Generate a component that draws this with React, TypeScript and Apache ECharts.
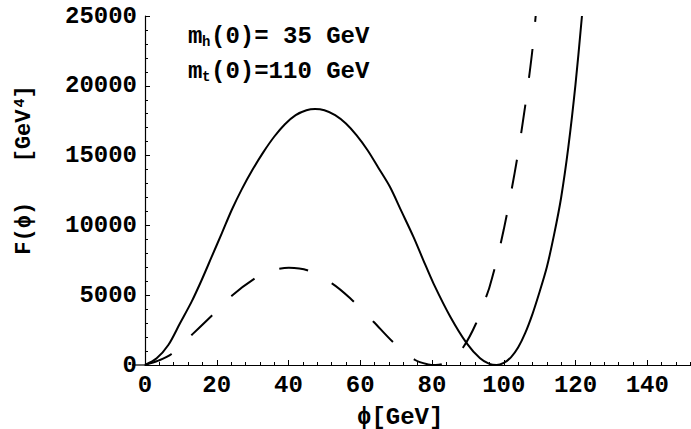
import React, { useEffect, useRef } from "react";
import * as echarts from "echarts";

// phi [GeV], F(phi) [GeV^4]
const solidCurve: [number, number][] = [
  [0, 0], [3.25, 480], [6.5, 1430], [9.76, 2990], [13, 4540], [15.8, 6090],
  [18.6, 7760], [21.4, 9430], [24.2, 11120], [27, 12600], [30, 14000],
  [33, 15250], [36, 16350], [39, 17250], [42, 17900], [45, 18250],
  [47.4, 18340], [50, 18250], [53, 17900], [56, 17300], [59, 16450],
  [62, 15400], [65, 14150], [68.3, 12750], [71.5, 11000], [74.8, 9190],
  [77.6, 7500], [80.4, 5850], [85.1, 3460], [89.7, 1550], [93.4, 480],
  [96, 80], [98, 0], [100, 150], [102, 550], [104, 1250], [106, 2300],
  [108, 3650], [110, 5250], [112, 7000], [114, 9300], [116, 12000],
  [118, 15600], [120, 20100], [121.8, 25000],
];

const dashedCurve: [number, number][] = [
  [0, 0], [3.7, 310], [7.4, 790], [13, 2150], [18.6, 3530], [24.2, 4960],
  [30.7, 6210], [35, 6750], [40.1, 6970], [45.6, 6760], [52.1, 5850],
  [57.2, 4780], [63.7, 3100], [69.3, 1600], [75.3, 360], [79, 40], [81, 0],
  [83, 80], [85.5, 400], [88.8, 1310], [92.3, 2990], [95.1, 4890],
  [96, 5550], [98, 7450], [100, 9700], [102, 12300], [104, 15200],
  [106, 18600], [107, 20500], [108, 22600], [108.9, 25000],
];

const xTicks = [0, 20, 40, 60, 80, 100, 120, 140];
const yTicks = [0, 5000, 10000, 15000, 20000, 25000];

const labelLine1 = { base: "m", sub: "h", rest: "(0)= 35 GeV" };
const labelLine2 = { base: "m", sub: "t", rest: "(0)=110 GeV" };
const xTitle = "ϕ[GeV]";
const yTitleMain = "F(ϕ)   [GeV";
const yTitleSup = "4";

const FONT = "'Liberation Mono', 'DejaVu Sans Mono', 'Courier New', monospace";

export default function App() {
  const ref = useRef<HTMLDivElement>(null);
  useEffect(() => {
    if (!ref.current) return;
    const chart = echarts.init(ref.current, undefined, { renderer: "svg" });
    const axisLabel = {
      fontFamily: FONT,
      fontWeight: "bold" as const,
      fontSize: 24,
      color: "#000",
    };
    const textStyle = (size: number) => ({
      font: `bold ${size}px ${FONT}`,
      fill: "#000",
    });
    chart.setOption({
      animation: false,
      backgroundColor: "#fff",
      grid: {
        left: 145,
        top: 16,
        width: 574,
        height: 349,
        containLabel: false,
        outerBoundsMode: "none",
      },
      xAxis: {
        type: "value",
        min: 0,
        max: 160,
        interval: 20,
        axisLine: { show: true, onZero: false, lineStyle: { color: "#000", width: 1.2 } },
        axisTick: { show: true, inside: true, length: 5, lineStyle: { color: "#000", width: 1 } },
        minorTick: { show: true, splitNumber: 5, length: 3, lineStyle: { color: "#000", width: 1 } },
        splitLine: { show: false },
        minorSplitLine: { show: false },
        axisLabel: {
          ...axisLabel,
          margin: 8,
          formatter: (v: number) => (xTicks.includes(v) ? String(v) : ""),
        },
      },
      yAxis: {
        type: "value",
        min: 0,
        max: 25000,
        interval: 5000,
        axisLine: { show: true, onZero: false, lineStyle: { color: "#000", width: 1.2 } },
        axisTick: { show: true, inside: true, length: 5, lineStyle: { color: "#000", width: 1 } },
        minorTick: { show: true, splitNumber: 5, length: 3, lineStyle: { color: "#000", width: 1 } },
        splitLine: { show: false },
        minorSplitLine: { show: false },
        axisLabel: {
          ...axisLabel,
          margin: 8,
          formatter: (v: number) => (yTicks.includes(v) ? String(v) : ""),
        },
      },
      series: [
        {
          type: "line",
          data: solidCurve,
          showSymbol: false,
          smooth: 0.3,
          clip: true,
          lineStyle: { color: "#000", width: 2 },
        },
        {
          type: "line",
          data: dashedCurve,
          showSymbol: false,
          smooth: 0.3,
          clip: true,
          lineStyle: { color: "#000", width: 2, type: [29, 27] },
        },
      ],
      graphic: [
        { type: "line", shape: { x1: 132, y1: 365, x2: 146, y2: 365 }, style: { stroke: "#000", lineWidth: 1.2 } },
        { type: "text", x: 188, y: 36, style: { ...textStyle(24), text: labelLine1.base, verticalAlign: "middle" } },
        { type: "text", x: 202, y: 42, style: { ...textStyle(14), text: labelLine1.sub, verticalAlign: "middle" } },
        { type: "text", x: 211, y: 36, style: { ...textStyle(24), text: labelLine1.rest, verticalAlign: "middle" } },
        { type: "text", x: 188, y: 71, style: { ...textStyle(24), text: labelLine2.base, verticalAlign: "middle" } },
        { type: "text", x: 202, y: 77, style: { ...textStyle(14), text: labelLine2.sub, verticalAlign: "middle" } },
        { type: "text", x: 211, y: 71, style: { ...textStyle(24), text: labelLine2.rest, verticalAlign: "middle" } },
        { type: "text", x: 357, y: 417, style: { ...textStyle(24), text: xTitle, verticalAlign: "middle" } },
        {
          type: "text",
          x: 24,
          y: 170,
          rotation: Math.PI / 2,
          style: {
            text: `{a|${yTitleMain}}{s|${yTitleSup}}{a|]}`,
            fill: "#000",
            align: "center",
            verticalAlign: "middle",
            rich: {
              a: { fontFamily: FONT, fontWeight: "bold", fontSize: 22, fill: "#000" },
              s: { fontFamily: FONT, fontWeight: "bold", fontSize: 15, fill: "#000", verticalAlign: "top", padding: [0, 0, 8, 2] },
            },
          },
        },
      ],
    });
    return () => chart.dispose();
  }, []);
  return (
    <div
      ref={ref}
      style={{ position: "fixed", left: 0, top: 0, width: 691, height: 429, background: "#fff" }}
    />
  );
}
